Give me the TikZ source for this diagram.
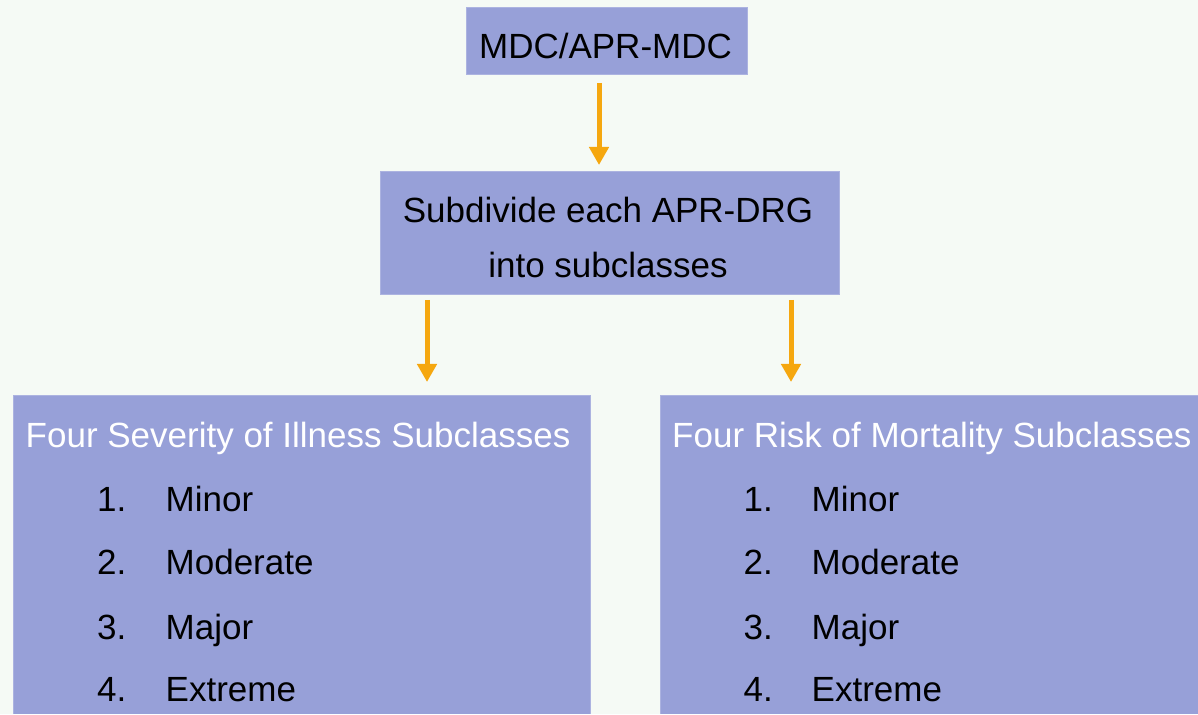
\documentclass[tikz,border=0pt]{standalone}
\usepackage{fontspec}
\setmainfont{Liberation Sans}
\usetikzlibrary{arrows.meta,calc}
\definecolor{bg}{HTML}{F5FAF5}
\definecolor{boxc}{HTML}{97A0D8}
\definecolor{arrc}{HTML}{F5A70F}
\begin{document}
\begin{tikzpicture}[x=1pt,y=1pt,
  box/.style={fill=boxc, draw=boxc!80!white, line width=1pt, inner sep=0pt, outer sep=0pt},
  txt/.style={font=\fontsize{35}{42}\selectfont, inner sep=0pt, text=black},
  ttl/.style={txt, text=white, anchor=base west},
  item/.style={txt, anchor=base west},
  arr/.style={draw=arrc, line width=5pt, -{Triangle[length=18pt,width=19pt]}}
]
\useasboundingbox (0,0) rectangle (1198,714);
\fill[bg] (0,0) rectangle (1198,714);
\clip (0,0) rectangle (1198,714);

% boxes
\node[box, minimum width=281, minimum height=67] (top) at (606.5,672.5) {};
\node[box, minimum width=459, minimum height=123] (mid) at (609.5,480.5) {};
\node[box, minimum width=577, minimum height=328] (left) at (301.5,154) {};
\node[box, minimum width=550, minimum height=328] (right) at (935,154) {};

% texts
\node[txt, anchor=base] (t1) at (605.5,655) {MDC/APR-MDC};
\node[txt, anchor=base] (m1) at (608,491) {Subdivide each APR-DRG};
\node[txt, anchor=base] (m2) at (608,436) {into subclasses};

\node[ttl] (lt) at (25.5,266) {Four Severity of Illness Subclasses};
\node[item] (ln1) at (97,202) {1.};
\node[item] (ln2) at (97,139) {2.};
\node[item] (ln3) at (97,74) {3.};
\node[item] (ln4) at (97,12) {4.};
\node[item] (lw1) at (165.5,202) {Minor};
\node[item] (lw2) at (165.5,139) {Moderate};
\node[item] (lw3) at (165.5,74) {Major};
\node[item] (lw4) at (165.5,12) {Extreme};

\node[ttl] (rt) at (672,266) {Four Risk of Mortality Subclasses};
\node[item] (rn1) at (743.5,202) {1.};
\node[item] (rn2) at (743.5,139) {2.};
\node[item] (rn3) at (743.5,74) {3.};
\node[item] (rn4) at (743.5,12) {4.};
\node[item] (rw1) at (811.5,202) {Minor};
\node[item] (rw2) at (811.5,139) {Moderate};
\node[item] (rw3) at (811.5,74) {Major};
\node[item] (rw4) at (811.5,12) {Extreme};

% arrows
\draw[arr] ($(top.south)+(-7.5,-8)$) -- ($(mid.north)+(-10.5,7)$);
\draw[arr] ($(mid.south)+(-182.5,-5)$) -- ($(left.north)+(125.5,14)$);
\draw[arr] ($(mid.south)+(181.5,-5)$) -- ($(right.north)+(-144,14)$);
\end{tikzpicture}
\end{document}
